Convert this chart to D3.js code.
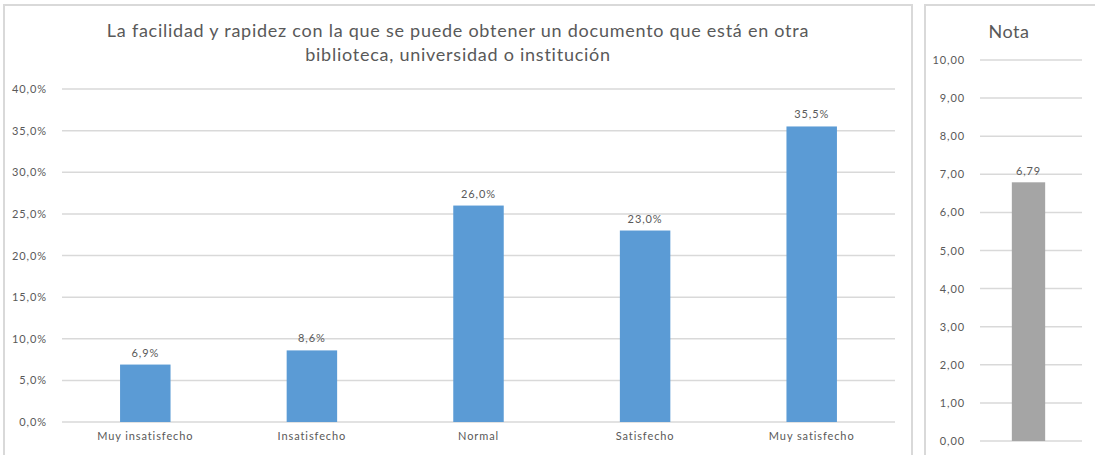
<!DOCTYPE html>
<html><head><meta charset="utf-8">
<script src="https://cdn.jsdelivr.net/npm/d3@7"></script>
<style>body{margin:0;background:#fff}svg{display:block;font-family:Lato,"Open Sans",sans-serif}</style>
</head><body><svg id="c" width="1095" height="455"></svg>
<script>
const categories = ["Muy insatisfecho","Insatisfecho","Normal","Satisfecho","Muy satisfecho"];
const values = [0.069,0.086,0.26,0.23,0.355];
const yTicks = [0,0.05,0.10,0.15,0.20,0.25,0.30,0.35,0.40];
const notaCategories = ["Nota"];
const notaValues = [6.79];
const notaTicks = [0,1,2,3,4,5,6,7,8,9,10];
const titleLines = ["La facilidad y rapidez con la que se puede obtener un documento que está en otra","biblioteca, universidad o institución"];

const svg = d3.select("#c");
const txt = "#595959", grid = "#d9d9d9";
const pct = v => d3.format(".1f")(v*100).replace(".",",")+"%";
const dec2 = v => d3.format(".2f")(v).replace(".",",");
const small = sel => sel.attr("fill",txt).style("font-size","11px").style("font-family","Lato,sans-serif").style("letter-spacing","0.9px");

// panels
svg.append("rect").attr("x",4).attr("y",5).attr("width",908).attr("height",470).attr("fill","#fff").attr("stroke",grid).attr("stroke-width",2);
svg.append("rect").attr("x",925).attr("y",5).attr("width",180).attr("height",470).attr("fill","#fff").attr("stroke",grid).attr("stroke-width",2);

// main chart
const x = d3.scaleBand().domain(categories).range([62,895]).paddingInner(0.697).paddingOuter(0.3485);
const y = d3.scaleLinear().domain([0,0.4]).range([422,89]);

svg.append("g").selectAll("line").data(yTicks).join("line")
  .attr("x1",62).attr("x2",895).attr("y1",d=>y(d)).attr("y2",d=>y(d))
  .attr("stroke",grid).attr("stroke-width",1.5);
const yAxis = svg.append("g").attr("transform","translate(55,0)")
  .call(d3.axisLeft(y).tickValues(yTicks).tickFormat(pct).tickSize(0).tickPadding(8));
yAxis.select(".domain").remove();
small(yAxis.selectAll("text"));

svg.append("g").selectAll("rect").data(values).join("rect")
  .attr("x",(d,i)=>x(categories[i])).attr("width",x.bandwidth())
  .attr("y",d=>y(d)).attr("height",d=>y(0)-y(d)).attr("fill","#5b9bd5");
small(svg.append("g").selectAll("text").data(values).join("text")
  .attr("x",(d,i)=>x(categories[i])+x.bandwidth()/2).attr("y",d=>y(d)-8)
  .attr("text-anchor","middle").text(pct));

const xAxis = svg.append("g").attr("transform","translate(0,422)")
  .call(d3.axisBottom(x).tickSize(0).tickPadding(10));
xAxis.select(".domain").remove();
small(xAxis.selectAll("text"));

svg.append("g").selectAll("text").data(titleLines).join("text")
  .attr("x",458).attr("y",(d,i)=>37+i*24).attr("text-anchor","middle")
  .attr("fill",txt).style("font-size","18px").style("letter-spacing","0.75px").text(d=>d);

// Nota chart
const x2 = d3.scaleBand().domain(notaCategories).range([977,1080]).padding(0.511);
const y2 = d3.scaleLinear().domain([0,10]).range([441,60]);
svg.append("g").selectAll("line").data(notaTicks).join("line")
  .attr("x1",980).attr("x2",1082).attr("y1",d=>y2(d)).attr("y2",d=>y2(d))
  .attr("stroke",grid).attr("stroke-width",1.5);
const y2Axis = svg.append("g").attr("transform","translate(973,0)")
  .call(d3.axisLeft(y2).tickValues(notaTicks).tickFormat(dec2).tickSize(0).tickPadding(8));
y2Axis.select(".domain").remove();
small(y2Axis.selectAll("text"));
svg.append("g").selectAll("rect").data(notaValues).join("rect")
  .attr("x",(d,i)=>x2(notaCategories[i])).attr("width",x2.bandwidth())
  .attr("y",d=>y2(d)).attr("height",d=>y2(0)-y2(d)).attr("fill","#a5a5a5");
small(svg.append("g").selectAll("text").data(notaValues).join("text")
  .attr("x",(d,i)=>x2(notaCategories[i])+x2.bandwidth()/2).attr("y",d=>y2(d)-7)
  .attr("text-anchor","middle").text(dec2));
svg.append("text").attr("x",1009).attr("y",38).attr("text-anchor","middle")
  .attr("fill",txt).style("font-size","18px").style("letter-spacing","0.5px").text("Nota");
</script></body></html>
